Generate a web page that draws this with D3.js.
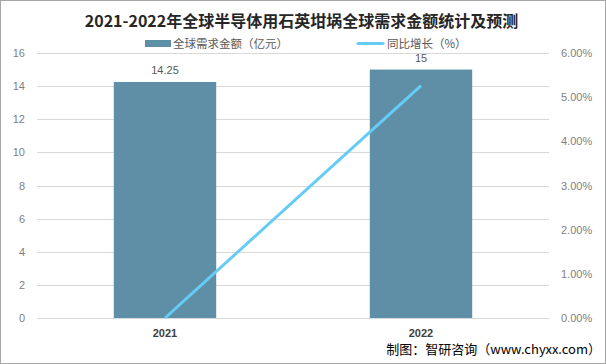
<!DOCTYPE html>
<html><head><meta charset="utf-8">
<script src="https://cdn.jsdelivr.net/npm/d3@7"></script>
<style>body{margin:0;background:#fff}svg{display:block;font-family:"Microsoft YaHei","Noto Sans CJK SC",sans-serif}</style>
</head><body><svg id="c" width="606" height="364"></svg>
<script>
const categories = ["2021", "2022"];
const demand = [14.25, 15];
const growth = [0, 5.26];
const leftTicks = [0, 2, 4, 6, 8, 10, 12, 14, 16];
const rightTicks = [0, 1, 2, 3, 4, 5, 6];

const svg = d3.select("#c");
const W = 606, H = 364;
const m = {l: 37, r: 57, t: 53, b: 46};
const pw = W - m.l - m.r, ph = H - m.t - m.b;

svg.append("rect").attr("x", 0.5).attr("y", 0.5).attr("width", W - 1).attr("height", H - 1)
  .attr("fill", "#fff").attr("stroke", "#a6a6a6");

const x = d3.scaleBand().domain(categories).range([m.l, m.l + pw]).paddingInner(0.6).paddingOuter(0.3);
const y = d3.scaleLinear().domain([0, 16]).range([m.t + ph, m.t]);
const y2 = d3.scaleLinear().domain([0, 6]).range([m.t + ph, m.t]);

// gridlines
svg.append("g").selectAll("line").data(leftTicks).join("line")
  .attr("x1", m.l).attr("x2", m.l + pw)
  .attr("y1", d => Math.round(y(d)) + 0.5).attr("y2", d => Math.round(y(d)) + 0.5)
  .attr("stroke", "#d9d9d9").attr("stroke-width", 1);

// left axis
const ga = svg.append("g").attr("transform", `translate(${m.l},0)`)
  .call(d3.axisLeft(y).tickValues(leftTicks).tickSize(0).tickPadding(12));
ga.select(".domain").remove();
ga.selectAll("text").attr("fill", "#7f7f7f").style("font-size", "11px").style("font-family", "Liberation Sans, Arial, sans-serif");

// right axis
const gb = svg.append("g").attr("transform", `translate(${m.l + pw},0)`)
  .call(d3.axisRight(y2).tickValues(rightTicks).tickSize(0).tickPadding(12).tickFormat(d => d.toFixed(2) + "%"));
gb.select(".domain").remove();
gb.selectAll("text").attr("fill", "#7f7f7f").style("font-size", "11px").style("font-family", "Liberation Sans, Arial, sans-serif");

// bars
svg.append("g").selectAll("rect").data(demand).join("rect")
  .attr("x", (d, i) => x(categories[i])).attr("width", x.bandwidth())
  .attr("y", d => y(d)).attr("height", d => y(0) - y(d))
  .attr("fill", "#5e8fa7");

// bar labels
svg.append("g").selectAll("text").data(demand).join("text")
  .attr("x", (d, i) => x(categories[i]) + x.bandwidth() / 2)
  .attr("y", d => y(d) - 8)
  .attr("text-anchor", "middle").attr("fill", "#595959")
  .style("font-size", "11px").style("font-family", "Liberation Sans, Arial, sans-serif")
  .text(d => d);

// line
const line = d3.line().x((d, i) => x(categories[i]) + x.bandwidth() / 2).y(d => y2(d));
svg.append("path").datum(growth).attr("d", line)
  .attr("fill", "none").attr("stroke", "#66ccf5").attr("stroke-width", 3);

// category labels
svg.append("g").selectAll("text").data(categories).join("text")
  .attr("x", d => x(d) + x.bandwidth() / 2).attr("y", y(0) + 19)
  .attr("text-anchor", "middle").attr("fill", "#404040")
  .style("font-size", "11px").style("font-weight", "bold").style("font-family", "Liberation Sans, Arial, sans-serif")
  .text(d => d);

// title
svg.append("text").attr("x", 301.5).attr("y", 27).attr("text-anchor", "middle")
  .attr("fill", "#262626").style("font-size", "16px").style("font-weight", "bold")
  .text("2021-2022年全球半导体用石英坩埚全球需求金额统计及预测");

// legend
const lg = svg.append("g");
lg.append("rect").attr("x", 145).attr("y", 40).attr("width", 26).attr("height", 7).attr("fill", "#5e8fa7");
lg.append("text").attr("x", 173).attr("y", 48).attr("fill", "#595959").style("font-size", "11.5px").text("全球需求金额（亿元）");
lg.append("line").attr("x1", 358).attr("x2", 383).attr("y1", 43.5).attr("y2", 43.5).attr("stroke", "#66ccf5").attr("stroke-width", 3).attr("stroke-linecap", "round");
lg.append("text").attr("x", 387).attr("y", 48).attr("fill", "#595959").style("font-size", "11.5px").text("同比增长（%）");

// source
svg.append("text").attr("x", 601).attr("y", 354).attr("text-anchor", "end")
  .attr("fill", "#000").style("font-size", "13px").text("制图：智研咨询（www.chyxx.com）");
</script></body></html>
